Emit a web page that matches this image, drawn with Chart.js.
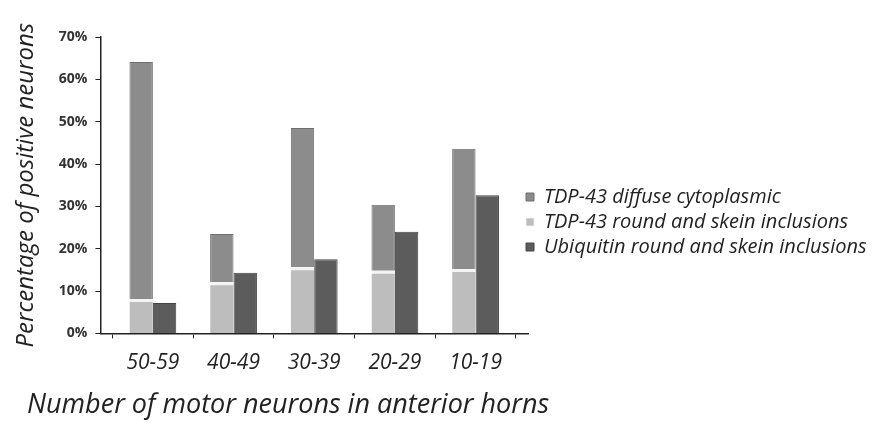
<!DOCTYPE html>
<html>
<head>
<meta charset="utf-8">
<script src="https://cdn.jsdelivr.net/npm/chart.js@4"></script>
<style>
  html, body { margin: 0; padding: 0; background: #fff; }
  #wrap { width: 874px; height: 427px; }
</style>
</head>
<body>
<div id="wrap"><canvas id="chart"></canvas></div>
<script>
// Categories (number of motor neurons)
const categories = ['50-59', '40-49', '30-39', '20-29', '10-19'];

// Percentages
const roundSkein = [8.1, 12.1, 15.6, 14.8, 15.2];      // TDP-43 round and skein inclusions
const diffuse = [56.0, 11.4, 32.9, 15.6, 28.4];        // TDP-43 diffuse cytoplasmic (stacked on top)
const ubiquitin = [7.2, 14.3, 17.5, 24.0, 32.6];       // Ubiquitin round and skein inclusions

const yTicks = [0, 10, 20, 30, 40, 50, 60, 70];
const legendOrder = [
    'TDP-43 diffuse cytoplasmic',
    'TDP-43 round and skein inclusions',
    'Ubiquitin round and skein inclusions'
];

const toPoints = arr => arr.map((v, i) => ({ x: i, y: v }));

// move legend / bottom title blocks a bit, like the excel export
const nudge = {
    id: 'nudge',
    afterLayout(chart) {
        const lg = chart.legend;
        if (lg) {
            const h = lg.bottom - lg.top;
            lg.top = 222 - h / 2;
            lg.bottom = 222 + h / 2;
            lg.left -= 7;
            lg.right -= 7;
        }
        const tb = chart.titleBlock;
        if (tb) {
            tb.left += 15;
            tb.right += 15;
        }
    }
};

const ctx = document.getElementById('chart').getContext('2d');
const chart = new Chart(ctx, {
    type: 'bar',
    data: {
        datasets: [{
            label: 'TDP-43 round and skein inclusions',
            data: toPoints(roundSkein),
            stack: 'tdp',
            backgroundColor: '#bdbdbd',
            borderColor: '#f4f4f4',
            borderWidth: { top: 3, left: 0, right: 0, bottom: 0 },
            borderSkipped: false
        }, {
            label: 'TDP-43 diffuse cytoplasmic',
            data: toPoints(diffuse),
            stack: 'tdp',
            backgroundColor: '#8c8c8c',
            borderColor: '#6e6e6e',
            borderWidth: 1,
            borderSkipped: 'bottom'
        }, {
            label: 'Ubiquitin round and skein inclusions',
            data: toPoints(ubiquitin),
            stack: 'ubi',
            backgroundColor: '#5c5c5c',
            borderColor: '#444',
            borderWidth: 1,
            borderSkipped: 'bottom'
        }]
    },
    options: {
        responsive: true,
        maintainAspectRatio: false,
        animation: false,
        layout: {
            padding: { left: 12, right: 0, top: 37, bottom: 5 }
        },
        datasets: {
            bar: {
                barPercentage: 1,
                categoryPercentage: 0.58
            }
        },
        scales: {
            x: {
                type: 'linear',
                offset: false,
                min: -0.65,
                max: 4.65,
                afterBuildTicks: scale => {
                    scale.ticks = categories.map((c, i) => ({ value: i }));
                },
                grid: {
                    drawOnChartArea: false,
                    tickLength: 5,
                    color: '#222'
                },
                border: { color: '#222', width: 1.5 },
                ticks: {
                    autoSkip: false,
                    maxRotation: 0,
                    padding: 12,
                    color: '#222',
                    font: { family: 'Open Sans', size: 21, style: 'italic' },
                    callback: value => categories[value]
                }
            },
            y: {
                stacked: true,
                min: 0,
                max: 70,
                afterBuildTicks: scale => {
                    scale.ticks = yTicks.map(v => ({ value: v }));
                },
                grid: {
                    drawOnChartArea: false,
                    tickLength: 5,
                    color: '#222'
                },
                border: { color: '#222', width: 1.5 },
                ticks: {
                    padding: 8,
                    color: '#333',
                    font: { family: 'Open Sans', size: 14, weight: 'bold' },
                    callback: value => value + '%'
                },
                title: {
                    display: true,
                    text: 'Percentage of positive neurons',
                    color: '#222',
                    font: { family: 'Open Sans', size: 24, style: 'italic' },
                    padding: { top: 0, bottom: 10 }
                }
            }
        },
        plugins: {
            title: {
                display: true,
                position: 'bottom',
                align: 'start',
                text: 'Number of motor neurons in anterior horns',
                color: '#222',
                font: { family: 'Open Sans', size: 27, style: 'italic', weight: 'normal' },
                padding: { top: 2, bottom: 0 }
            },
            legend: {
                position: 'right',
                align: 'center',
                maxWidth: 346,
                labels: {
                    boxWidth: 8,
                    boxHeight: 8,
                    padding: 5,
                    color: '#222',
                    font: { family: 'Open Sans', size: 20, style: 'italic' },
                    sort: (a, b) => legendOrder.indexOf(a.text) - legendOrder.indexOf(b.text)
                }
            },
            tooltip: { enabled: false }
        }
    },
    plugins: [nudge]
});
</script>
</body>
</html>
